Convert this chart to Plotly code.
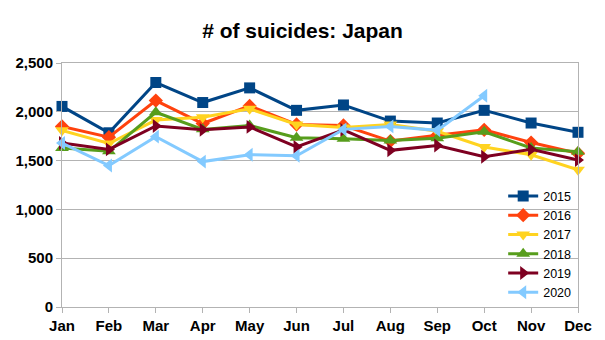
import plotly.graph_objects as go

months = ["Jan", "Feb", "Mar", "Apr", "May", "Jun", "Jul", "Aug", "Sep", "Oct", "Nov", "Dec"]
y2015 = [2055, 1785, 2300, 2095, 2245, 2015, 2070, 1905, 1885, 2015, 1885, 1790]
y2016 = [1850, 1740, 2115, 1880, 2060, 1870, 1860, 1700, 1760, 1815, 1685, 1575]
y2017 = [1810, 1675, 1915, 1945, 2030, 1870, 1840, 1870, 1800, 1640, 1560, 1405]
y2018 = [1630, 1595, 1995, 1820, 1860, 1735, 1725, 1705, 1730, 1795, 1630, 1590]
y2019 = [1680, 1615, 1855, 1815, 1845, 1640, 1815, 1605, 1655, 1540, 1615, 1505]
y2020 = [1680, 1450, 1745, 1490, 1560, 1550, 1820, 1850, 1810, 2165]
y_ticks = [0, 500, 1000, 1500, 2000, 2500]

series = [
    ("2015", y2015, "#004586", "square", 11),
    ("2016", y2016, "#ff420e", "diamond", 11),
    ("2017", y2017, "#ffd320", "triangle-down", 12),
    ("2018", y2018, "#579d1c", "triangle-up", 12),
    ("2019", y2019, "#7e0021", "triangle-right", 12),
    ("2020", y2020, "#83caff", "triangle-left", 12),
]

fig = go.Figure()
for name, vals, color, sym, size in series:
    fig.add_trace(go.Scatter(
        x=list(range(len(vals))), y=vals, name=name, mode="lines+markers",
        line=dict(color=color, width=3),
        marker=dict(symbol=sym, size=size, color=color),
        cliponaxis=False,
    ))

axis_color = "#b3b3b3"
fam = "Liberation Sans, Arial, sans-serif"
fig.update_layout(
    width=605, height=340,
    margin=dict(l=62, r=27, t=63, b=33, autoexpand=False),
    paper_bgcolor="white", plot_bgcolor="white",
    font=dict(family=fam, color="black"),
    title=dict(text="<b># of suicides: Japan</b>", x=0.5, xanchor="center",
               y=1 - 31 / 340, yanchor="middle", font=dict(size=21)),
    legend=dict(x=0.855, y=0.515, xanchor="left", yanchor="top",
                bgcolor="rgba(0,0,0,0)", font=dict(size=12.5),
                tracegroupgap=0, itemwidth=30),
    showlegend=True,
)
fig.update_xaxes(
    range=[0, 11], tickvals=list(range(12)), ticktext=[f"<b>{m}</b>" for m in months],
    showgrid=False, showline=True, linecolor=axis_color, linewidth=1, mirror=True,
    ticks="outside", ticklen=5, tickcolor=axis_color,
    tickfont=dict(size=15, family=fam),
    zeroline=False, automargin=False,
)
fig.update_yaxes(
    range=[0, 2500], tickvals=y_ticks,
    ticktext=[f"<b>{v:,}</b>" for v in y_ticks],
    showgrid=True, gridcolor=axis_color, gridwidth=1,
    showline=True, linecolor=axis_color, linewidth=1, mirror=True,
    ticks="outside", ticklen=5, tickcolor=axis_color,
    tickfont=dict(size=15, family=fam),
    zeroline=False, automargin=False,
)

fig.write_html("out.html")
